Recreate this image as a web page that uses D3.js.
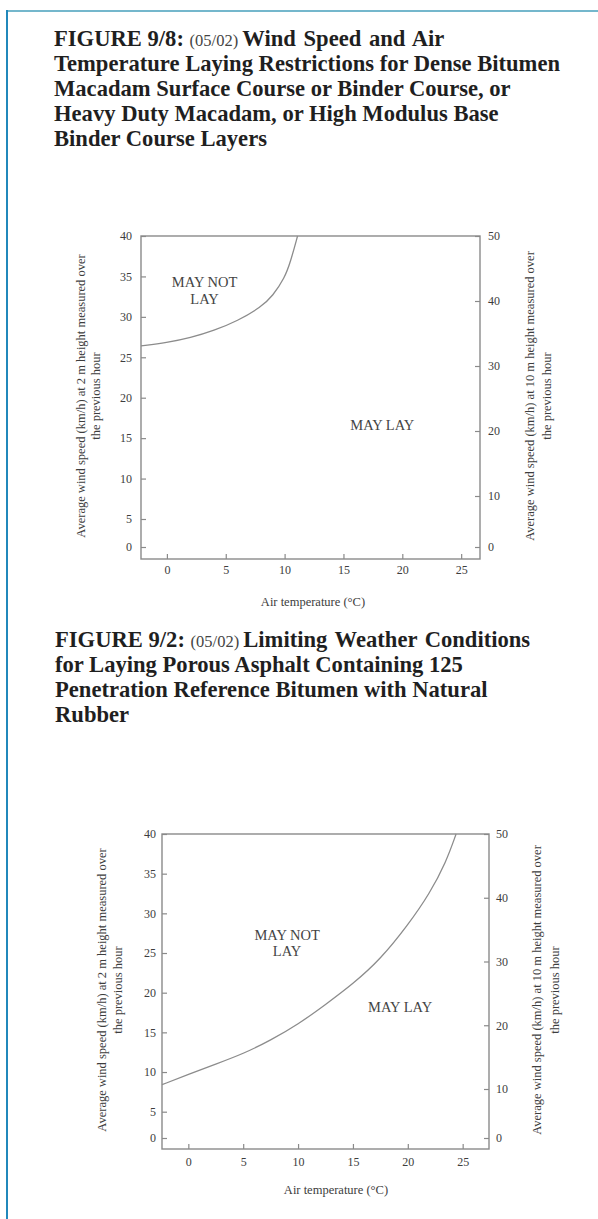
<!DOCTYPE html>
<html>
<head>
<meta charset="utf-8">
<script src="https://cdn.jsdelivr.net/npm/d3@7"></script>
<style>
  body { margin: 0; background: #fff; }
  svg text { font-family: "Liberation Serif", "Times New Roman", serif; }
</style>
</head>
<body>
<div id="page"></div>
<script>
// tick values
const tempTicks = [0, 5, 10, 15, 20, 25];
const leftTicks = [0, 5, 10, 15, 20, 25, 30, 35, 40];
const rightTicks = [0, 10, 20, 30, 40, 50];

// figure 9/8 boundary (air temp degC -> wind km/h at 2 m)
const fig98Temp = [-2.2, 0, 2, 4, 6, 8, 9, 10, 10.5, 11.1];
const fig98Wind = [26.4, 26.8, 27.4, 28.3, 29.5, 31.2, 32.6, 34.8, 36.8, 40];

// figure 9/2 boundary
const fig92Temp = [-2.4, 0, 2.5, 5, 7.5, 10, 12.5, 15, 17.5, 20, 22, 23.5, 24.4];
const fig92Wind = [8.4, 9.7, 11.0, 12.3, 14.0, 16.0, 18.5, 21.1, 24.2, 28.5, 32.5, 36.5, 40];

const titles98 = [
  ["FIGURE 9/8:", "(05/02)", "Wind Speed and Air"],
  ["Temperature Laying Restrictions for Dense Bitumen"],
  ["Macadam Surface Course or Binder Course, or"],
  ["Heavy Duty Macadam, or High Modulus Base"],
  ["Binder Course Layers"]
];
const titles92 = [
  ["FIGURE 9/2:", "(05/02)", "Limiting Weather Conditions"],
  ["for Laying Porous Asphalt Containing 125"],
  ["Penetration Reference Bitumen with Natural"],
  ["Rubber"]
];

const leftLabel = ["Average wind speed (km/h) at 2 m height measured over", "the previous hour"];
const rightLabel = ["Average wind speed (km/h) at 10 m height measured over", "the previous hour"];

const W = 598, H = 1219;
const svg = d3.select("#page").append("svg")
  .attr("width", W).attr("height", H);

// page frame lines
svg.append("line").attr("x1", 6).attr("x2", W).attr("y1", 11).attr("y2", 11)
  .attr("stroke", "#74b7cc").attr("stroke-width", 2);
svg.append("line").attr("x1", 7).attr("x2", 7).attr("y1", 10).attr("y2", H)
  .attr("stroke", "#2188bb").attr("stroke-width", 2);

function drawTitle(lines, x, y0) {
  lines.forEach((parts, i) => {
    const t = svg.append("text").attr("x", x).attr("y", y0 + i * 25)
      .attr("fill", "#1f1f1f").style("font-size", "22.6px").style("font-weight", "bold");
    if (parts.length === 1) {
      t.text(parts[0]);
    } else {
      t.append("tspan").text(parts[0] + " ");
      t.append("tspan").style("font-weight", "normal").style("font-size", "16.5px")
        .attr("fill", "#444").text(parts[1] + " ");
      t.append("tspan").style("word-spacing", "2px").text(parts[2]);
    }
  });
}

function drawChart(c) {
  const w = c.right - c.left, h = c.bottom - c.top;
  const g = svg.append("g").attr("transform", `translate(${c.left},${c.top})`);

  const x = d3.scaleLinear().domain(c.xDomain).range([0, w]);
  // the printed axes squeeze the 0 tick, so use piecewise scales
  const yL = d3.scaleLinear().domain([0, 5, 40]).range(c.yLeftRange);
  const yR = d3.scaleLinear().domain([0, 10, 50]).range(c.yRightRange);

  const axisColor = "#8a8a8a", textColor = "#3d3d3d";

  const ax = g.append("g").attr("transform", `translate(0,${h})`)
    .call(d3.axisBottom(x).tickValues(tempTicks).tickSize(-5).tickPadding(c.xPad));
  const al = g.append("g")
    .call(d3.axisLeft(yL).tickValues(leftTicks).tickSize(-5).tickPadding(c.lPad));
  const ar = g.append("g").attr("transform", `translate(${w},0)`)
    .call(d3.axisRight(yR).tickValues(rightTicks).tickSize(-5).tickPadding(c.rPad));

  [ax, al, ar].forEach(a => {
    a.select(".domain").remove();
    a.selectAll(".tick line").attr("stroke", axisColor).attr("stroke-width", 1.2);
    a.selectAll(".tick text").attr("fill", textColor)
      .style("font-family", "'Liberation Serif', serif").style("font-size", "12px");
  });

  g.append("rect").attr("width", w).attr("height", h)
    .attr("fill", "none").attr("stroke", axisColor).attr("stroke-width", 1.4);

  const pts = c.temps.map((t, i) => [t, c.winds[i]]);
  g.append("path")
    .datum(pts)
    .attr("fill", "none").attr("stroke", "#8c8c8c").attr("stroke-width", 1.3)
    .attr("d", d3.line().x(d => x(d[0])).y(d => yL(d[1])).curve(d3.curveBasis));

  // region labels
  const reg = (txt, tx, ty) => g.append("text").attr("x", x(tx)).attr("y", yL(ty))
    .attr("text-anchor", "middle").attr("dy", "0.35em")
    .attr("fill", "#444").style("font-size", "14.5px").text(txt);
  reg("MAY NOT", c.notAt[0], c.notAt[1]);
  reg("LAY", c.notAt[0], c.notAt[1] - c.notGap);
  reg("MAY LAY", c.layAt[0], c.layAt[1]);

  // axis titles
  svg.append("text").attr("x", c.xTitle[0]).attr("y", c.xTitle[1])
    .attr("text-anchor", "middle").attr("dy", "0.35em")
    .attr("fill", textColor).style("font-size", "12.5px").text("Air temperature (°C)");

  const side = (lines, xs, cy) => lines.forEach((s, i) => {
    svg.append("text")
      .attr("transform", `translate(${xs[i]},${cy}) rotate(-90)`)
      .attr("text-anchor", "middle").attr("dy", "0.35em")
      .attr("fill", textColor).style("font-size", "12.5px").text(s);
  });
  side(leftLabel, c.leftLabelX, c.labelY);
  side(rightLabel, c.rightLabelX, c.labelY);
}

drawTitle(titles98, 54, 46);
drawChart({
  left: 141, right: 480, top: 236, bottom: 559,
  xDomain: [-2.2, 26.6],
  yLeftRange: [311, 283, 0], yRightRange: [311, 260, 0],
  xPad: 6, lPad: 9, rPad: 8,
  temps: fig98Temp, winds: fig98Wind,
  notAt: [3.2, 34.3], notGap: 2.1, layAt: [18.3, 16.6],
  xTitle: [313, 602],
  leftLabelX: [81, 96], rightLabelX: [530, 547], labelY: 396
});

drawTitle(titles92, 55, 647);
drawChart({
  left: 162, right: 489, top: 834, bottom: 1149,
  xDomain: [-2.4, 27.4],
  yLeftRange: [304, 277.7, 0], yRightRange: [304, 255, 0],
  xPad: 8, lPad: 6, rPad: 7,
  temps: fig92Temp, winds: fig92Wind,
  notAt: [9, 27.3], notGap: 2.0, layAt: [19.3, 18.2],
  xTitle: [336, 1190],
  leftLabelX: [102, 118], rightLabelX: [537, 555], labelY: 990
});
</script>
</body>
</html>
